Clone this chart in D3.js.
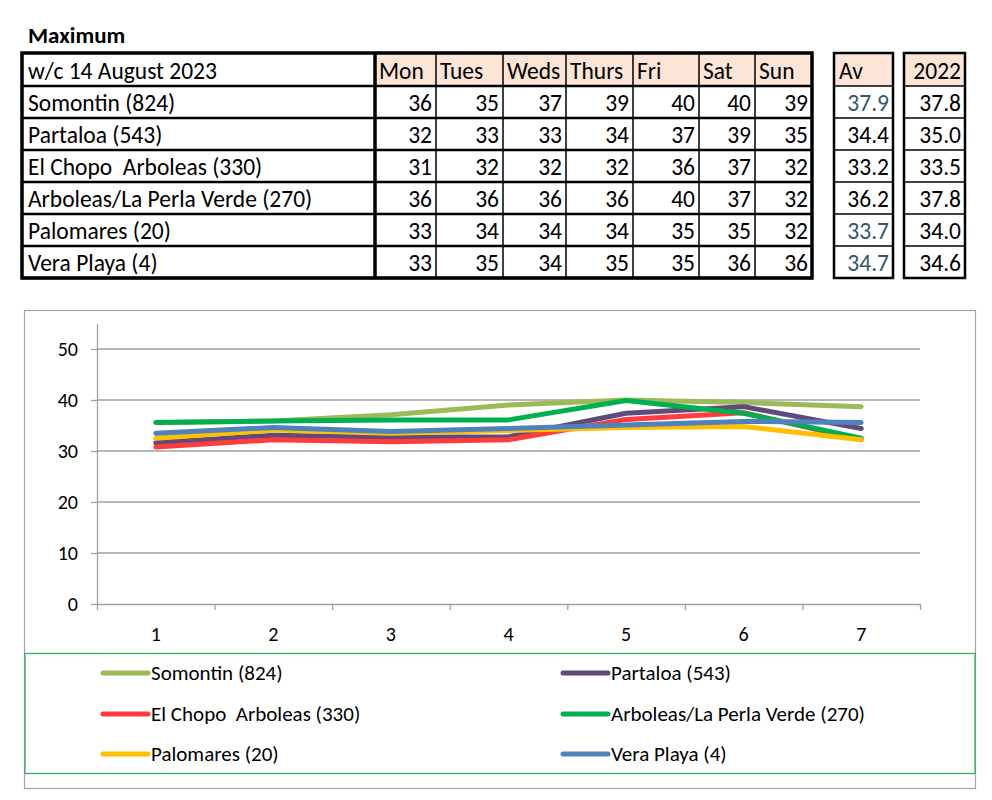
<!DOCTYPE html>
<html><head><meta charset="utf-8">
<script src="https://cdn.jsdelivr.net/npm/d3@7"></script>
<style>body{margin:0;background:#fff}svg{display:block}text{font-family:Carlito,Lato,"Open Sans",sans-serif}</style>
</head><body>
<svg id="c" width="992" height="800"></svg>
<script>
const title = "Maximum";
const weekLabel = "w/c 14 August 2023";
const days = ["Mon","Tues","Weds","Thurs","Fri","Sat","Sun"];
const stations = ["Somontin (824)","Partaloa (543)","El Chopo  Arboleas (330)","Arboleas/La Perla Verde (270)","Palomares (20)","Vera Playa (4)"];
const tableValues = [
  [36,35,37,39,40,40,39],
  [32,33,33,34,37,39,35],
  [31,32,32,32,36,37,32],
  [36,36,36,36,40,37,32],
  [33,34,34,34,35,35,32],
  [33,35,34,35,35,36,36]
];
const averages = ["37.9","34.4","33.2","36.2","33.7","34.7"];
const averageTeal = [true,false,false,false,true,true];
const values2022 = ["37.8","35.0","33.5","37.8","34.0","34.6"];
const avHeader = "Av";
const yearHeader = "2022";

const xCategories = [1,2,3,4,5,6,7];
const yTicks = [0,10,20,30,40,50];
const somontin  = [35.6,35.9,37.1,39.0,40.0,39.5,38.7];
const partaloa  = [31.6,33.1,32.7,32.8,37.4,38.7,34.4];
const elChopo   = [30.8,32.2,31.8,32.2,36.2,37.5,32.2];
const arboleas  = [35.6,35.9,36.1,36.1,39.9,37.4,32.5];
const palomares = [32.5,34.1,33.5,34.0,34.6,34.8,32.2];
const veraPlaya = [33.5,34.6,33.8,34.4,35.1,35.8,35.6];
const seriesValues = [somontin,partaloa,elChopo,arboleas,palomares,veraPlaya];
const seriesColors = ["#9BBB59","#604A7B","#FF3B3B","#00B050","#FFC000","#4F81BD"];

const svg = d3.select("#c");

// ---------- table ----------
const tFont = 23.5;
svg.append("text").attr("x",28).attr("y",43).attr("font-size",23).attr("font-weight","bold").text(title);
const colEdges = [22,375,436,503,566,633,699,755,812];
const rowScale = d3.scaleLinear().domain([0,1]).range([86,118]);
const headerTop = 53, headerBottom = 86;
const peach = "#FCE4D6";
const tg = svg.append("g");
days.forEach((d,i)=>{
  tg.append("rect").attr("x",colEdges[i+1]).attr("y",headerTop).attr("width",colEdges[i+2]-colEdges[i+1]).attr("height",headerBottom-headerTop).attr("fill",peach);
  tg.append("text").attr("x",colEdges[i+1]+4).attr("y",(headerTop+headerBottom)/2+1).attr("dy","0.35em").attr("font-size",tFont).text(d);
});
tg.append("text").attr("x",colEdges[0]+6).attr("y",(headerTop+headerBottom)/2+1).attr("dy","0.35em").attr("font-size",tFont).text(weekLabel);
stations.forEach((s,r)=>{
  const y0 = rowScale(r), y1 = rowScale(r+1);
  tg.append("text").attr("x",colEdges[0]+6).attr("y",(y0+y1)/2+1).attr("dy","0.35em").attr("font-size",tFont).style("white-space","pre").text(s);
  tableValues[r].forEach((v,c)=>{
    tg.append("text").attr("x",colEdges[c+2]-4).attr("y",(y0+y1)/2+1).attr("dy","0.35em").attr("text-anchor","end").attr("font-size",tFont).text(v);
  });
});
const tableBottom = rowScale(stations.length);
for(let r=0;r<=stations.length;r++){
  tg.append("line").attr("x1",colEdges[0]).attr("x2",colEdges[8]).attr("y1",rowScale(r)).attr("y2",rowScale(r)).attr("stroke","#000").attr("stroke-width",2.5);
}
colEdges.slice(2,8).forEach(x=>{
  tg.append("line").attr("x1",x).attr("x2",x).attr("y1",headerTop).attr("y2",tableBottom).attr("stroke","#000").attr("stroke-width",1.5);
});
tg.append("line").attr("x1",colEdges[1]).attr("x2",colEdges[1]).attr("y1",headerTop).attr("y2",tableBottom).attr("stroke","#000").attr("stroke-width",3.5);
tg.append("rect").attr("x",colEdges[0]).attr("y",headerTop).attr("width",colEdges[8]-colEdges[0]).attr("height",tableBottom-headerTop).attr("fill","none").attr("stroke","#000").attr("stroke-width",3.5);

function sideBox(x0,x1,header,vals,teal){
  const g = svg.append("g");
  g.append("rect").attr("x",x0).attr("y",headerTop).attr("width",x1-x0).attr("height",headerBottom-headerTop).attr("fill",peach);
  g.append("text").attr("x",header===avHeader?x0+5:x1-4).attr("y",(headerTop+headerBottom)/2+1).attr("dy","0.35em").attr("text-anchor",header===avHeader?"start":"end").attr("font-size",tFont).text(header);
  vals.forEach((v,r)=>{
    const y0=rowScale(r), y1=rowScale(r+1);
    g.append("text").attr("x",x1-4).attr("y",(y0+y1)/2+1).attr("dy","0.35em").attr("text-anchor","end").attr("font-size",tFont).attr("fill",teal&&teal[r]?"#31596B":"#000").text(v);
  });
  for(let r=0;r<=vals.length;r++){
    g.append("line").attr("x1",x0).attr("x2",x1).attr("y1",rowScale(r)).attr("y2",rowScale(r)).attr("stroke","#000").attr("stroke-width",1.5);
  }
  g.append("rect").attr("x",x0).attr("y",headerTop).attr("width",x1-x0).attr("height",tableBottom-headerTop).attr("fill","none").attr("stroke","#000").attr("stroke-width",2.5);
}
sideBox(834,893,avHeader,averages,averageTeal);
sideBox(904,965,yearHeader,values2022,null);

// ---------- chart ----------
svg.append("rect").attr("x",24.5).attr("y",310.5).attr("width",951).attr("height",478).attr("fill","#fff").attr("stroke","#A6A6A6").attr("stroke-width",1.2);
const x = d3.scaleLinear().domain([0.5,7.5]).range([97,920]);
const y = d3.scaleLinear().domain([0,55]).range([604,323.5]);
const grey = "#A0A0A0";
svg.append("g").selectAll("line").data(yTicks.filter(t=>t>0)).join("line")
  .attr("x1",x(0.5)).attr("x2",x(7.5)).attr("y1",d=>y(d)).attr("y2",d=>y(d)).attr("stroke",grey).attr("stroke-width",1.3);
const yAxis = svg.append("g").attr("transform",`translate(${x(0.5)},0)`).call(d3.axisLeft(y).tickValues(yTicks).tickSize(6).tickSizeOuter(0));
yAxis.select(".domain").attr("stroke",grey).attr("stroke-width",1.3);
yAxis.selectAll(".tick line").attr("stroke",grey).attr("stroke-width",1.3);
yAxis.selectAll(".tick text").style("font-size","20px").attr("fill","#000").attr("x",-19);
const xAxis = svg.append("g").attr("transform",`translate(0,${y(0)})`).call(d3.axisBottom(x).tickValues(d3.range(0.5,8,1)).tickSize(6).tickSizeOuter(0).tickFormat(""));
xAxis.select(".domain").attr("stroke",grey).attr("stroke-width",1.3);
xAxis.selectAll(".tick line").attr("stroke",grey).attr("stroke-width",1.3);
svg.append("g").selectAll("text").data(xCategories).join("text")
  .attr("x",d=>x(d)).attr("y",y(0)+30).attr("dy","0.35em").attr("text-anchor","middle").style("font-size","20px").text(d=>d);
const line = d3.line().x((d,i)=>x(xCategories[i])).y(d=>y(d));
svg.append("g").selectAll("path").data(seriesValues).join("path")
  .attr("d",line).attr("fill","none").attr("stroke",(d,i)=>seriesColors[i]).attr("stroke-width",5).attr("stroke-linejoin","round").attr("stroke-linecap","round");
svg.append("rect").attr("x",25).attr("y",653.5).attr("width",950).attr("height",120).attr("fill","none").attr("stroke","#2EAA5E").attr("stroke-width",1.2);
const legX = [103,563], legY = [673,714,754];
const lg = svg.append("g").selectAll("g").data(stations).join("g")
  .attr("transform",(d,i)=>`translate(${legX[i%2]},${legY[Math.floor(i/2)]})`);
lg.append("line").attr("x1",0).attr("x2",45).attr("y1",0).attr("y2",0).attr("stroke",(d,i)=>seriesColors[i]).attr("stroke-width",5).attr("stroke-linecap","round");
lg.append("text").attr("x",48).attr("dy","0.35em").style("font-size","21px").style("white-space","pre").text(d=>d);
</script>
</body></html>
